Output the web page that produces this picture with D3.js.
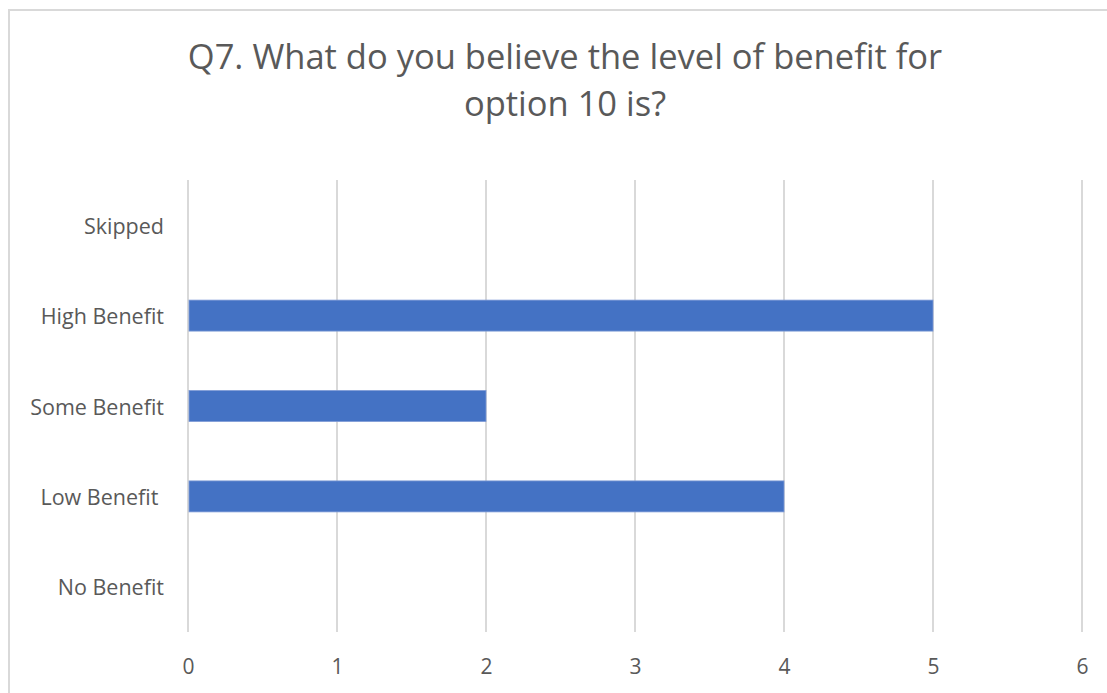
<!DOCTYPE html>
<html>
<head>
<meta charset="utf-8">
<script src="https://cdn.jsdelivr.net/npm/d3@7"></script>
<style>
  html, body { margin: 0; padding: 0; background: #fff; }
  svg { display: block; }
  text { font-family: "Open Sans", "Noto Sans", sans-serif; fill: #595959; }
</style>
</head>
<body>
<svg id="chart" width="1107" height="693"></svg>
<script>
// Survey responses, top to bottom as listed
const categories = ["Skipped", "High Benefit", "Some Benefit", "Low Benefit ", "No Benefit"];
const counts = [0, 5, 2, 4, 0];
const xTicks = [0, 1, 2, 3, 4, 5, 6];
const titleLines = ["Q7. What do you believe the level of benefit for", "option 10 is?"];

const W = 1107, H = 693;
const margin = { top: 180, right: 25, bottom: 61, left: 188 };
const svg = d3.select("#chart");

// outer chart frame (top and left edges visible)
svg.append("path")
  .attr("d", `M9,${H} V10 H${W}`)
  .attr("fill", "none")
  .attr("stroke", "#d9d9d9")
  .attr("stroke-width", 2);

const x = d3.scaleLinear()
  .domain([0, d3.max(xTicks)])
  .range([margin.left, W - margin.right]);

const y = d3.scaleBand()
  .domain(categories)
  .range([margin.top, H - margin.bottom])
  .paddingInner(0.657)
  .paddingOuter(0.3285);

// vertical gridlines
svg.append("g")
  .selectAll("line")
  .data(xTicks)
  .join("line")
  .attr("x1", d => x(d)).attr("x2", d => x(d))
  .attr("y1", margin.top).attr("y2", H - margin.bottom)
  .attr("stroke", "#d9d9d9")
  .attr("stroke-width", 2);

// bars
svg.append("g")
  .selectAll("rect")
  .data(categories.map((c, i) => ({ c, v: counts[i] })).filter(d => d.v > 0))
  .join("rect")
  .attr("x", x(0) + 1)
  .attr("y", d => y(d.c))
  .attr("width", d => x(d.v) - x(0) - 1)
  .attr("height", y.bandwidth())
  .attr("fill", "#4472c4")
  .attr("stroke", "#7f9bd6")
  .attr("stroke-width", 0.8);

// x axis labels
const xAxis = d3.axisBottom(x).tickValues(xTicks).tickFormat(d3.format("d")).tickSize(0).tickPadding(0);
svg.append("g")
  .attr("transform", `translate(0,${H - margin.bottom + 27})`)
  .call(xAxis)
  .call(g => g.select(".domain").remove())
  .selectAll("text")
  .style("font-family", "'Open Sans', sans-serif")
  .style("font-size", "21px")
  .style("fill", "#595959");

// category labels
const yAxis = d3.axisLeft(y).tickSize(0).tickPadding(24);
svg.append("g")
  .attr("transform", `translate(${margin.left},0)`)
  .call(yAxis)
  .call(g => g.select(".domain").remove())
  .selectAll("text")
  .attr("xml:space", "preserve")
  .attr("dy", "0.4em")
  .style("white-space", "pre")
  .style("font-family", "'Open Sans', sans-serif")
  .style("font-size", "21.5px")
  .style("fill", "#595959");

// title
svg.append("text")
  .attr("x", 565)
  .attr("y", 69)
  .attr("text-anchor", "middle")
  .style("font-size", "34.5px")
  .selectAll("tspan")
  .data(titleLines)
  .join("tspan")
  .attr("x", 565)
  .attr("dy", (d, i) => i === 0 ? 0 : 47)
  .text(d => d);
</script>
</body>
</html>
